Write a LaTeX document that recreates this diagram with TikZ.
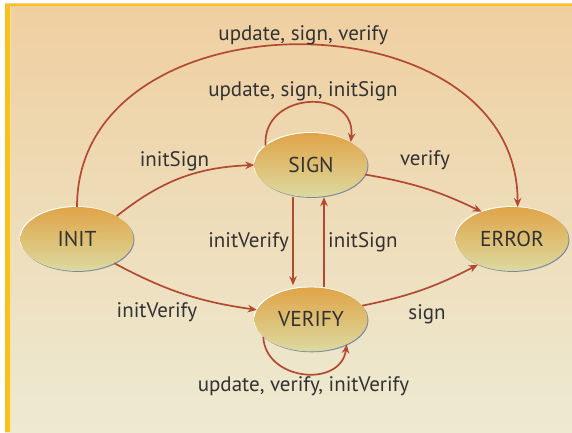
\documentclass[tikz,border=0pt]{standalone}
\usepackage{fontspec}
\setmainfont{PT Sans}
\usetikzlibrary{positioning, arrows.meta, shapes.geometric}

\definecolor{arrowred}{RGB}{178,74,50}
\definecolor{txtgray}{RGB}{50,50,50}
\definecolor{paneltop}{RGB}{239,207,160}
\definecolor{panelmid}{RGB}{240,221,184}
\definecolor{panelbot}{RGB}{237,234,210}
\definecolor{barorange}{RGB}{252,192,28}
\definecolor{stateTop}{RGB}{224,164,72}
\definecolor{stateMid}{RGB}{226,180,95}
\definecolor{stateBot}{RGB}{220,218,160}
\definecolor{shadowblue}{RGB}{125,135,165}

\begin{document}
\begin{tikzpicture}[
    x=1pt, y=1pt,
    state/.style={ellipse, minimum width=113pt, minimum height=64pt, inner sep=0pt,
                  font=\fontsize{21.5pt}{25pt}\selectfont, text=txtgray,
                  preaction={fill=shadowblue, transform canvas={shift={(0.9pt,-0.9pt)}}},
                  preaction={fill=white, transform canvas={shift={(-0.9pt,0.9pt)}}},
                  top color=stateTop, middle color=stateMid, bottom color=stateBot},
    trans/.style={-{Stealth[length=9pt, width=7.5pt]}, line width=1.7pt, draw=arrowred},
    lbl/.style={font=\fontsize{21pt}{24pt}\selectfont, text=txtgray},
    node distance=90pt
]

% --- frame and background ---
\useasboundingbox (0,0) rectangle (572,432);
\fill[white] (0,0) rectangle (572,432);
\shade[top color=paneltop, middle color=panelmid, bottom color=panelbot] (5,0) rectangle (572,428);
\fill[barorange] (5,426) rectangle (572,428);
\fill[barorange] (5,0) rectangle (10,428);
\fill[barorange!40] (10,0) rectangle (11,426);

% --- states ---
\node[state] (init) at (77,193) {INIT};
\node[state] (sign) at (311,267) {SIGN};
\node[state, below=of sign] (verify) {VERIFY};
\node[state] (error) at (512,193) {ERROR};

% --- transitions ---
\draw[trans] (init.north) .. controls +(0,216) and +(0,216) .. (error.80)
    node[lbl, pos=0.5, above=-4pt, xshift=6pt] (lblTop) {update, sign, verify};
\draw[trans] (sign.157) .. controls +(-4,55) and +(6,55) .. (sign.30)
    node[lbl, pos=0.5, above=-3pt, xshift=-6pt] (lblSignLoop) {update, sign, initSign};
\draw[trans] (init.30) to[bend left=18]
    node[lbl, pos=0.45, above=5pt] (lblInitSign) {initSign} (sign.west);
\draw[trans] (sign.-10) to[bend left=8]
    node[lbl, pos=0.5, above=14pt] (lblVerify) {verify} (error.138);

\draw[trans, shorten >=2pt] ([xshift=-18pt]sign.south) --
    node[lbl, left] (lblInitVerifyMid) {initVerify} ([xshift=-18pt]verify.north);
\draw[trans] ([xshift=13pt]verify.north) --
    node[lbl, right] (lblInitSignMid) {initSign} ([xshift=13pt]sign.south);

\draw[trans] (init.-33) to[bend right=10]
    node[lbl, pos=0.3, below=15pt] (lblInitVerify) {initVerify} (verify.170);
\draw[trans] (verify.15) to[bend right=8]
    node[lbl, pos=0.55, below=12pt] (lblSign) {sign} (error.-143);
\draw[trans] (verify.200) .. controls +(2,-44) and +(-6,-44) .. (verify.-35)
    node[lbl, pos=0.5, below=-1pt] (lblVerifyLoop) {update, verify, initVerify};

\end{tikzpicture}
\end{document}
